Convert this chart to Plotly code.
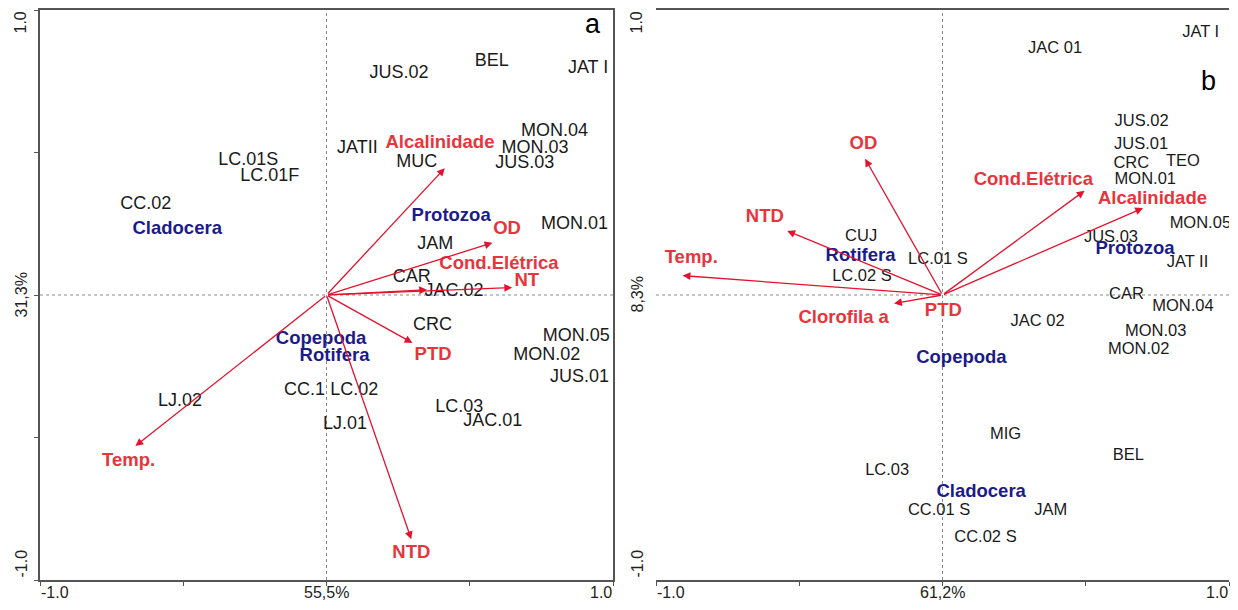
import plotly.graph_objects as go

# ---------------- Panel a data ----------------
a_site_names = ["JUS.02", "BEL", "JAT I", "MON.04", "MON.03", "JUS.03", "JATII", "MUC",
                "LC.01S", "LC.01F", "CC.02", "MON.01", "JAM", "CAR", "JAC.02", "CRC",
                "MON.05", "MON.02", "JUS.01", "LJ.02", "CC.1", "LC.02", "LJ.01", "LC.03", "JAC.01"]
a_site_x = [0.253, 0.577, 0.913, 0.796, 0.728, 0.692, 0.108, 0.315,
            -0.273, -0.198, -0.631, 0.866, 0.380, 0.298, 0.445, 0.370,
            0.872, 0.769, 0.883, -0.511, -0.077, 0.097, 0.065, 0.463, 0.580]
a_site_y = [0.778, 0.819, 0.793, 0.575, 0.515, 0.460, 0.515, 0.464,
            0.472, 0.416, 0.317, 0.246, 0.176, 0.061, 0.014, -0.106,
            -0.147, -0.212, -0.291, -0.375, -0.334, -0.334, -0.453, -0.393, -0.445]

a_taxa_names = ["Cladocera", "Protozoa", "Copepoda", "Rotifera"]
a_taxa_x = [-0.521, 0.435, -0.019, 0.028]
a_taxa_y = [0.229, 0.276, -0.157, -0.214]

a_env_names = ["Alcalinidade", "OD", "Cond.Elétrica", "NT", "PTD", "Temp.", "NTD"]
a_env_tip_x = [0.413, 0.579, 0.351, 0.648, 0.300, -0.667, 0.296]
a_env_tip_y = [0.445, 0.183, 0.018, 0.026, -0.168, -0.530, -0.857]
a_env_lab_x = [0.396, 0.630, 0.602, 0.699, 0.372, -0.691, 0.296]
a_env_lab_y = [0.533, 0.229, 0.106, 0.048, -0.212, -0.585, -0.907]

# ---------------- Panel b data ----------------
b_site_names = ["JAT I", "JAC 01", "JUS.02", "JUS.01", "CRC", "TEO", "MON.01", "MON.05",
                "CUJ", "JUS.03", "LC.01 S", "JAT II", "LC.02 S", "CAR", "MON.04", "JAC 02",
                "MON.03", "MON.02", "MIG", "BEL", "LC.03", "CC.01 S", "JAM", "CC.02 S"]
b_site_x = [0.901, 0.393, 0.695, 0.693, 0.659, 0.839, 0.708, 0.900,
            -0.284, 0.588, -0.016, 0.855, -0.281, 0.642, 0.839, 0.332,
            0.744, 0.685, 0.220, 0.649, -0.193, -0.012, 0.378, 0.150]
b_site_y = [0.921, 0.865, 0.608, 0.526, 0.461, 0.467, 0.405, 0.250,
            0.203, 0.202, 0.123, 0.111, 0.063, 0.002, -0.041, -0.093,
            -0.131, -0.193, -0.491, -0.566, -0.617, -0.759, -0.759, -0.853]

b_taxa_names = ["Protozoa", "Rotifera", "Copepoda", "Cladocera"]
b_taxa_x = [0.672, -0.286, 0.066, 0.135]
b_taxa_y = [0.161, 0.135, -0.222, -0.693]

b_env_names = ["OD", "Cond.Elétrica", "Alcalinidade", "NTD", "Temp.", "Clorofila a", "PTD"]
b_env_tip_x = [-0.270, 0.496, 0.700, -0.542, -0.907, -0.169, 0.010]
b_env_tip_y = [0.478, 0.366, 0.305, 0.225, 0.068, -0.030, 0.006]
b_env_lab_x = [-0.276, 0.317, 0.733, -0.620, -0.877, -0.345, 0.003]
b_env_lab_y = [0.528, 0.401, 0.335, 0.272, 0.129, -0.082, -0.058]

# axis labels
tick_vals = [-1.0, -0.5, 0.0, 0.5, 1.0]
a_x_center_label = "55,5%"
a_y_center_label = "31,3%"
b_x_center_label = "61,2%"
b_y_center_label = "8,3%"
panel_letters = ["a", "b"]

# ---------------- styling ----------------
# the page body has an 8px margin, so the figure is laid out 8px inside the window
OFF = 8
W, H = 1238 - 2 * OFF, 610 - 2 * OFF
FONT = "Arial, Liberation Sans, sans-serif"
RED_TXT = "#e8343c"
RED_ARR = "#e3132f"
BLUE = "#1b1b8a"
BLACK = "#1a1a1a"
FRAME = "#555555"

fig = go.Figure()

panels = [
    dict(sx=a_site_x, sy=a_site_y, sn=a_site_names, tx=a_taxa_x, ty=a_taxa_y, tn=a_taxa_names,
         etx=a_env_tip_x, ety=a_env_tip_y, elx=a_env_lab_x, ely=a_env_lab_y, en=a_env_names,
         xa="x", ya="y", site_size=18, bold_size=18.5,
         xc=a_x_center_label, yc=a_y_center_label),
    dict(sx=b_site_x, sy=b_site_y, sn=b_site_names, tx=b_taxa_x, ty=b_taxa_y, tn=b_taxa_names,
         etx=b_env_tip_x, ety=b_env_tip_y, elx=b_env_lab_x, ely=b_env_lab_y, en=b_env_names,
         xa="x2", ya="y2", site_size=16.5, bold_size=18.5,
         xc=b_x_center_label, yc=b_y_center_label),
]

annotations = []
shapes = []
for i, p in enumerate(panels):
    xa, ya = p["xa"], p["ya"]
    # arrows for environmental variables
    for tx, ty in zip(p["etx"], p["ety"]):
        annotations.append(dict(
            x=tx, y=ty, xref=xa, yref=ya, ax=0, ay=0, axref=xa, ayref=ya,
            showarrow=True, arrowhead=2, arrowsize=1.2, arrowwidth=1.3,
            arrowcolor=RED_ARR, text=""))
    fig.add_trace(go.Scatter(
        x=p["sx"], y=p["sy"], text=p["sn"], mode="text", textposition="middle center",
        textfont=dict(family=FONT, size=p["site_size"], color=BLACK),
        xaxis=xa, yaxis=ya, showlegend=False, hoverinfo="skip"))
    fig.add_trace(go.Scatter(
        x=p["tx"], y=p["ty"], text=["<b>%s</b>" % t for t in p["tn"]], mode="text",
        textposition="middle center",
        textfont=dict(family=FONT, size=p["bold_size"], color=BLUE),
        xaxis=xa, yaxis=ya, showlegend=False, hoverinfo="skip"))
    fig.add_trace(go.Scatter(
        x=p["elx"], y=p["ely"], text=["<b>%s</b>" % t for t in p["en"]], mode="text",
        textposition="middle center",
        textfont=dict(family=FONT, size=p["bold_size"], color=RED_TXT),
        xaxis=xa, yaxis=ya, showlegend=False, hoverinfo="skip"))

    # dotted centre lines
    shapes.append(dict(type="line", xref=xa, yref=ya + " domain", x0=0, x1=0, y0=0, y1=1,
                       line=dict(color="#8a8a8a", width=1, dash="dot"), layer="below"))
    shapes.append(dict(type="line", xref=xa + " domain", yref=ya, x0=0, x1=1, y0=0, y1=0,
                       line=dict(color="#8a8a8a", width=1, dash="dot"), layer="below"))

    # tick labels (x)
    xlabs = ["-1.0", p["xc"], "1.0"]
    xpos = [tick_vals[0], tick_vals[2], tick_vals[4]]
    xanc = ["left", "center", "right"]
    for t, xv, anc in zip(xlabs, xpos, xanc):
        annotations.append(dict(x=xv, y=0, xref=xa, yref=ya + " domain", text=t,
                                showarrow=False, xanchor=anc, yanchor="top", yshift=-3,
                                borderpad=0,
                                font=dict(family=FONT, size=16, color="#222222")))
    # tick labels (y), rotated
    ylabs = ["-1.0", p["yc"], "1.0"]
    ypos = [tick_vals[0], tick_vals[2], tick_vals[4]]
    yanc = ["bottom", "middle", "top"]
    for t, yv, anc in zip(ylabs, ypos, yanc):
        annotations.append(dict(x=0, y=yv, xref=xa + " domain", yref=ya, text=t,
                                showarrow=False, xanchor="right", yanchor=anc, xshift=-9,
                                textangle=-90,
                                font=dict(family=FONT, size=16, color="#222222")))

# panel letters
annotations.append(dict(x=0.965, y=0.975, xref="x domain", yref="y domain", text=panel_letters[0],
                        showarrow=False, xanchor="center", yanchor="middle",
                        font=dict(family=FONT, size=27, color="black")))
annotations.append(dict(x=0.965, y=0.875, xref="x2 domain", yref="y2 domain", text=panel_letters[1],
                        showarrow=False, xanchor="center", yanchor="middle",
                        font=dict(family=FONT, size=27, color="black")))

axis_common = dict(range=[-1, 1], showgrid=False, zeroline=False, showline=True, mirror=True,
                   linecolor=FRAME, linewidth=1.5, ticks="outside", ticklen=4, tickwidth=1,
                   tickcolor=FRAME, tickvals=tick_vals, showticklabels=False, fixedrange=True)


def xdom(a, b):
    return [(a - OFF) / W, (b - OFF) / W]


def ydom(top, bottom):
    return [1 - (bottom - OFF) / H, 1 - (top - OFF) / H]


fig.update_layout(
    width=W, height=H,
    margin=dict(l=0, r=0, t=0, b=0),
    paper_bgcolor="white", plot_bgcolor="white",
    xaxis=dict(domain=xdom(40, 613), **axis_common),
    yaxis=dict(domain=ydom(10, 580), **axis_common),
    xaxis2=dict(domain=xdom(656, 1229), **axis_common),
    yaxis2=dict(domain=ydom(10, 580), **axis_common),
    annotations=annotations,
    shapes=shapes,
    showlegend=False,
)

fig.write_html("out.html")
